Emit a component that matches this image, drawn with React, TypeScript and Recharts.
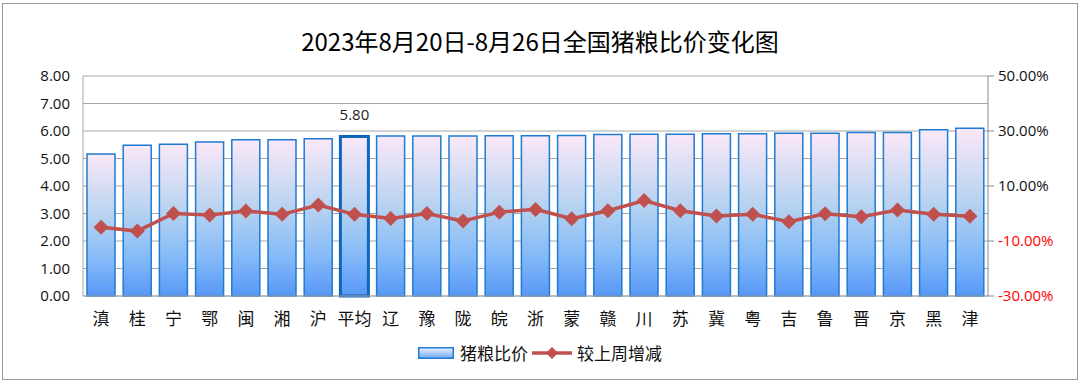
import React from 'react';
import { ComposedChart, Bar, Line, XAxis, YAxis, CartesianGrid, Cell, LabelList } from 'recharts';

const categories = ['滇', '桂', '宁', '鄂', '闽', '湘', '沪', '平均', '辽', '豫', '陇', '皖', '浙', '蒙', '赣', '川', '苏', '冀', '粤', '吉', '鲁', '晋', '京', '黑', '津'];
const ratioValues = [5.16, 5.48, 5.52, 5.6, 5.68, 5.68, 5.72, 5.8, 5.82, 5.82, 5.82, 5.83, 5.83, 5.84, 5.87, 5.88, 5.88, 5.9, 5.9, 5.92, 5.92, 5.95, 5.95, 6.05, 6.1];
const weeklyChange = [-5.0, -6.4, 0.0, -0.5, 0.9, -0.3, 3.1, -0.3, -1.8, 0.0, -2.7, 0.5, 1.5, -1.9, 1.0, 4.7, 1.0, -0.9, -0.3, -3.0, -0.1, -1.2, 1.3, -0.3, -1.0];
const leftTicks = [0, 1, 2, 3, 4, 5, 6, 7, 8];
const rightTicks = [-30, -10, 10, 30, 50];
const title = '2023年8月20日-8月26日全国猪粮比价变化图';
const barName = '猪粮比价';
const lineName = '较上周增减';
const highlightCategory = '平均';

const data = categories.map((c, i) => ({ name: c, ratio: ratioValues[i], change: weeklyChange[i] }));

const NUM_FONT = '"Open Sans", "Liberation Sans", sans-serif';
const CJK_FONT = '"Noto Sans CJK SC", sans-serif';
const RED = '#C0504D';
const GRID = '#A6A6A6';

const Diamond = (props: any) => {
  const { cx, cy } = props;
  if (cx == null || cy == null) return null;
  const r = 7.5;
  return <path d={`M${cx},${cy - r}L${cx + r},${cy}L${cx},${cy + r}L${cx - r},${cy}Z`} fill={RED} stroke="none" />;
};

const RightTick = (props: any) => {
  const { x, y, payload } = props;
  const v = payload.value as number;
  return (
    <text x={x} y={y} dy="0.355em" textAnchor="start" fontSize={15} fontFamily={NUM_FONT} fill={v < 0 ? '#FF0000' : '#111'}>
      {v.toFixed(2) + '%'}
    </text>
  );
};

const AvgLabel = (props: any) => {
  const { x, y, width, value, index } = props;
  if (categories[index] !== highlightCategory) return null;
  return (
    <text x={x + width / 2} y={y - 17} textAnchor="middle" fontSize={15} fontFamily={NUM_FONT} fill="#222">
      {Number(value).toFixed(2)}
    </text>
  );
};

export default function App() {
  return (
    <div style={{ position: 'absolute', left: 0, top: 0, width: 1080, height: 384, background: '#fff', overflow: 'hidden' }}>
      <div style={{ position: 'absolute', left: 2, top: 3, width: 1074, height: 375, border: '1.5px solid #9A9A9A' }} />
      <div style={{ position: 'absolute', left: 0, top: 24, width: 1080, textAlign: 'center', fontFamily: CJK_FONT, fontSize: 24, color: '#000', lineHeight: '34px' }}>
        {title}
      </div>
      <div style={{ position: 'absolute', left: 0, top: 0 }}>
        <ComposedChart width={1080} height={384} data={data} margin={{ top: 76, right: 12, bottom: 58, left: 13 }}>
          <defs>
            <linearGradient id="barGrad" x1="0" y1="0" x2="0" y2="1">
              <stop offset="0%" stopColor="#FBE8F8" />
              <stop offset="45%" stopColor="#B5D2F0" />
              <stop offset="75%" stopColor="#84BAF8" />
              <stop offset="100%" stopColor="#5897F7" />
            </linearGradient>
          </defs>
          <CartesianGrid vertical={false} stroke={GRID} strokeWidth={1} yAxisId="left" />
          <XAxis dataKey="name" tickLine={false} axisLine={{ stroke: GRID }} tickSize={0} tickMargin={17} height={30} interval={0}
            tick={{ fontSize: 17, fontFamily: CJK_FONT, fill: '#111' }} />
          <YAxis yAxisId="left" orientation="left" width={70} domain={[0, 8]} ticks={leftTicks} tickLine={false} tickSize={0} tickMargin={13}
            axisLine={{ stroke: GRID }} tickFormatter={(v: number) => v.toFixed(2)} tick={{ fontSize: 15, fontFamily: NUM_FONT, fill: '#111' }} />
          <YAxis yAxisId="right" orientation="right" width={80} domain={[-30, 50]} ticks={rightTicks} tickSize={6} tickMargin={4}
            tickLine={{ stroke: '#888' }} axisLine={{ stroke: '#888' }} tick={<RightTick />} />
          <Bar yAxisId="left" dataKey="ratio" name={barName} barSize={28} fill="url(#barGrad)" stroke="#1E7BD3" strokeWidth={1.5} isAnimationActive={false}>
            {data.map((d, i) => (
              <Cell key={i} fill="url(#barGrad)" stroke={d.name === highlightCategory ? '#0E66BC' : '#1E7BD3'} strokeWidth={d.name === highlightCategory ? 3 : 1.5} />
            ))}
            <LabelList dataKey="ratio" content={<AvgLabel />} />
          </Bar>
          <Line yAxisId="right" dataKey="change" name={lineName} stroke={RED} strokeWidth={3.5} dot={<Diamond />} activeDot={false} isAnimationActive={false} />
        </ComposedChart>
      </div>
      <div style={{ position: 'absolute', left: 0, top: 341, width: 1080, display: 'flex', justifyContent: 'center', alignItems: 'center', fontFamily: CJK_FONT, fontSize: 17, color: '#111', lineHeight: '24px' }}>
        <svg width={36} height={12} style={{ marginRight: 6 }}>
          <defs>
            <linearGradient id="legGrad" x1="0" y1="0" x2="0" y2="1">
              <stop offset="0%" stopColor="#EAF2FC" />
              <stop offset="100%" stopColor="#6FA8F5" />
            </linearGradient>
          </defs>
          <rect x={0.75} y={0.75} width={34.5} height={10.5} fill="url(#legGrad)" stroke="#1E7BD3" strokeWidth={1.5} />
        </svg>
        <span>{barName}</span>
        <svg width={40} height={14} style={{ marginLeft: 4, marginRight: 5 }}>
          <line x1={0} y1={7} x2={40} y2={7} stroke={RED} strokeWidth={3.5} />
          <path d="M20,1L26,7L20,13L14,7Z" fill={RED} />
        </svg>
        <span>{lineName}</span>
      </div>
    </div>
  );
}
